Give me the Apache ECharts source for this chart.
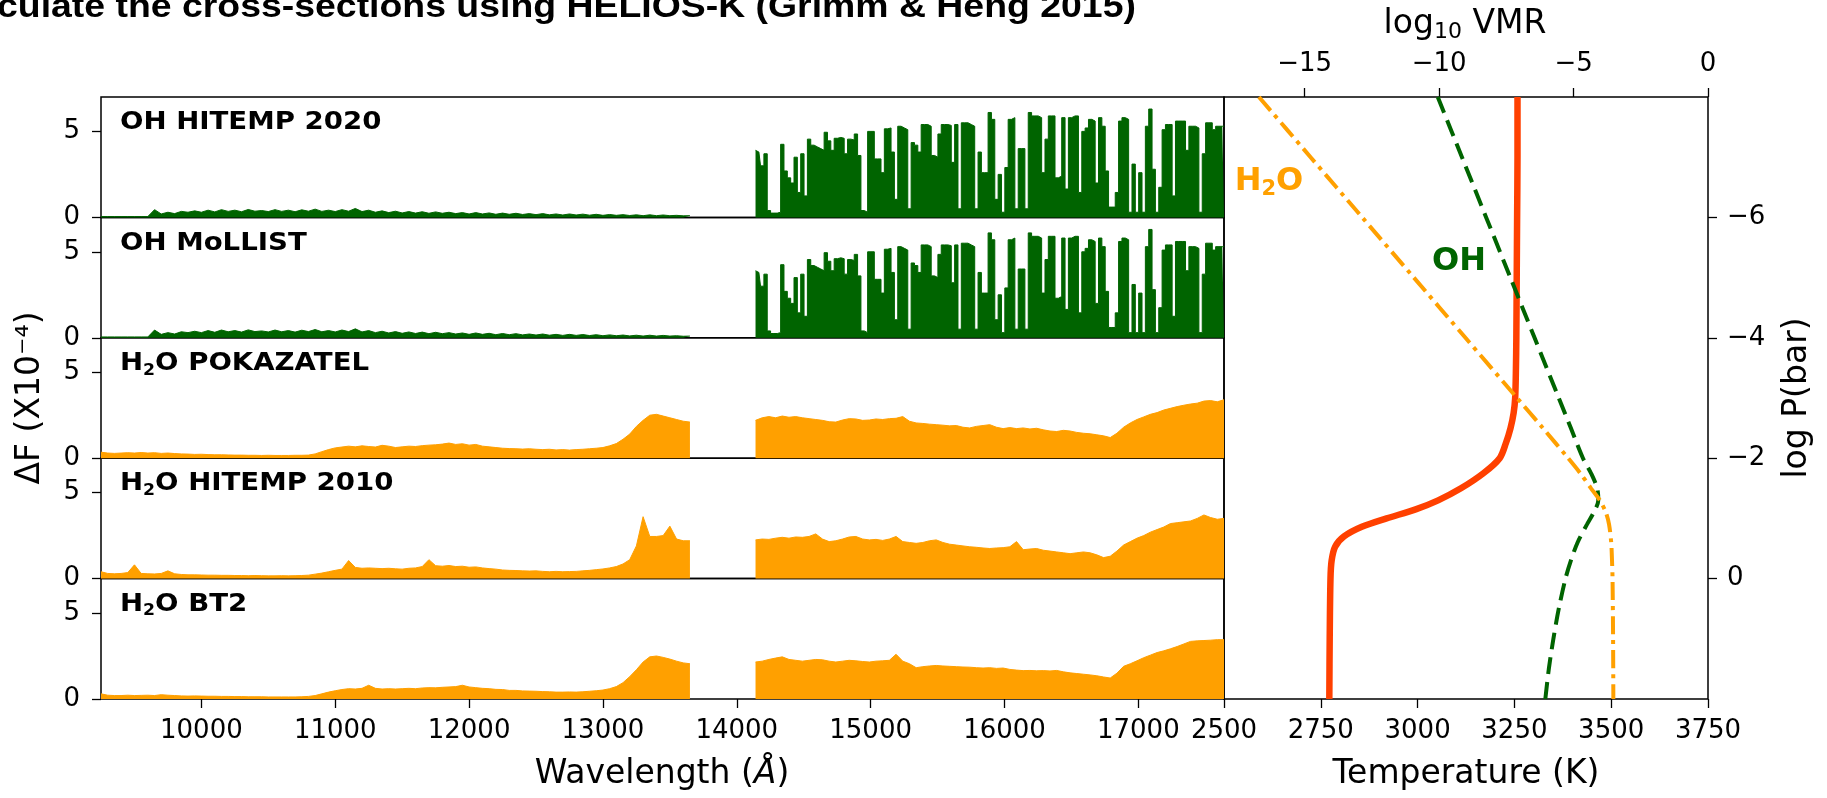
<!DOCTYPE html>
<html>
<head>
<meta charset="utf-8">
<script src="https://cdn.jsdelivr.net/npm/echarts@6/dist/echarts.min.js"></script>
<style>
  html, body { margin: 0; padding: 0; background: #fff; }
  #chart { width: 1827px; height: 798px; }
</style>
</head>
<body>
<div id="chart"></div>
<script>
// 波长网格 (Å)
const waveMin = 9250, waveMax = 17640;
const leftStart = 9250, rightStart = 14140;
const h2oStep = 50, ohStep = 25;
const waveTicks = [10000, 11000, 12000, 13000, 14000, 15000, 16000, 17000];

// OH 谱线 (ΔF x1e-4)
const ohHitempLeft = [0.05,0.05,0.05,0.05,0.05,0.05,0.05,0.05,0.45,0.2,
  0.3,0.22,0.35,0.3,0.38,0.3,0.42,0.32,0.45,0.35,
  0.42,0.33,0.46,0.36,0.4,0.34,0.45,0.35,0.42,0.33,
  0.44,0.36,0.48,0.35,0.42,0.34,0.45,0.36,0.52,0.34,
  0.42,0.3,0.38,0.28,0.36,0.26,0.34,0.25,0.33,0.24,
  0.32,0.24,0.3,0.22,0.28,0.2,0.28,0.2,0.26,0.18,
  0.25,0.18,0.24,0.17,0.22,0.16,0.22,0.15,0.2,0.14,
  0.2,0.14,0.19,0.13,0.18,0.12,0.17,0.12,0.16,0.11,
  0.15,0.1,0.15,0.1,0.14,0.1,0.12,0.09,0.1];
const ohHitempRight = [3.9,3.8,3.0,3.7,0.4,0.25,0.25,0.3,4.25,2.7,
  2.3,2.0,3.5,1.45,3.7,1.25,4.55,4.2,4.1,4.0,
  3.9,4.95,4.45,3.9,4.6,4.65,4.6,3.7,4.55,4.5,
  4.85,3.6,0.4,0.3,5.0,5.0,3.4,3.4,2.6,5.15,
  5.2,3.8,1.05,5.3,5.2,5.1,0.5,4.35,4.2,3.8,
  5.4,5.4,5.3,3.6,3.5,4.85,5.4,5.4,5.35,3.2,
  5.4,0.5,5.5,5.5,5.4,5.3,0.5,3.8,2.6,2.6,
  6.1,5.7,1.05,2.5,0.3,2.9,5.7,5.8,0.5,4.0,
  4.0,0.5,6.1,5.9,5.9,5.8,2.6,4.55,5.9,5.9,
  2.3,2.4,5.8,1.65,5.8,5.9,5.9,1.45,5.0,5.2,
  5.7,5.6,2.0,5.8,5.3,2.7,0.6,0.6,1.45,5.6,
  5.8,5.7,0.3,3.1,0.3,2.6,0.3,5.3,6.3,2.8,
  0.3,1.75,5.1,5.4,5.4,1.25,5.6,5.6,5.6,3.9,
  5.3,5.3,5.2,0.3,3.7,5.5,5.5,5.1,5.3,5.3,5.3];
// MoLLIST 在这个尺度上与 HITEMP 看起来一样
const ohMollistLeft = ohHitempLeft;
const ohMollistRight = ohHitempRight;

// H2O 谱线
const h2oPokLeft = [0.35,0.3,0.28,0.3,0.32,0.3,0.33,0.3,0.32,0.28,
  0.3,0.27,0.25,0.24,0.22,0.23,0.21,0.2,0.2,0.19,
  0.18,0.18,0.17,0.17,0.16,0.17,0.16,0.16,0.16,0.17,
  0.17,0.18,0.25,0.38,0.5,0.6,0.65,0.7,0.66,0.72,
  0.68,0.65,0.75,0.7,0.62,0.66,0.7,0.68,0.73,0.76,
  0.78,0.82,0.88,0.8,0.84,0.76,0.8,0.7,0.66,0.62,
  0.58,0.56,0.55,0.53,0.55,0.52,0.5,0.52,0.48,0.5,
  0.47,0.5,0.52,0.55,0.58,0.62,0.72,0.85,1.1,1.4,
  1.85,2.2,2.5,2.55,2.45,2.35,2.25,2.15,2.1];
const h2oPokRight = [2.2,2.35,2.42,2.35,2.45,2.38,2.42,2.35,2.3,2.25,
  2.2,2.12,2.1,2.22,2.3,2.28,2.2,2.22,2.28,2.25,
  2.3,2.32,2.42,2.15,2.05,2.02,1.98,1.95,1.92,1.88,
  1.9,1.8,1.76,1.85,1.9,1.95,1.8,1.72,1.78,1.72,
  1.76,1.7,1.74,1.65,1.58,1.55,1.62,1.58,1.5,1.45,
  1.42,1.36,1.3,1.2,1.45,1.8,2.05,2.25,2.4,2.55,
  2.65,2.8,2.9,3.0,3.08,3.15,3.2,3.32,3.35,3.28,3.4];
const h2oHit10Left = [0.4,0.3,0.28,0.3,0.35,0.8,0.3,0.28,0.27,0.3,
  0.45,0.28,0.24,0.22,0.22,0.21,0.2,0.2,0.19,0.19,
  0.18,0.18,0.17,0.18,0.17,0.16,0.16,0.17,0.16,0.17,
  0.18,0.2,0.26,0.32,0.4,0.48,0.55,1.05,0.65,0.6,
  0.62,0.6,0.58,0.6,0.57,0.55,0.6,0.62,0.7,1.1,
  0.75,0.72,0.76,0.7,0.72,0.66,0.68,0.62,0.58,0.55,
  0.5,0.48,0.47,0.45,0.44,0.45,0.42,0.4,0.42,0.4,
  0.41,0.42,0.45,0.48,0.52,0.56,0.62,0.7,0.85,1.1,
  1.9,3.6,2.45,2.45,2.5,3.05,2.3,2.2,2.2];
const h2oHit10Right = [2.25,2.3,2.28,2.35,2.4,2.35,2.42,2.4,2.45,2.6,
  2.3,2.15,2.2,2.3,2.42,2.45,2.3,2.25,2.28,2.22,
  2.3,2.45,2.15,2.1,2.05,2.1,2.2,2.25,2.1,2.0,
  1.95,1.9,1.85,1.82,1.78,1.75,1.78,1.8,1.85,2.15,
  1.68,1.72,1.75,1.65,1.6,1.55,1.5,1.45,1.5,1.55,
  1.5,1.38,1.22,1.3,1.6,1.95,2.15,2.35,2.5,2.7,
  2.85,3.0,3.2,3.25,3.3,3.35,3.5,3.7,3.55,3.45,3.5];
const h2oBt2Left = [0.3,0.22,0.2,0.2,0.22,0.2,0.21,0.22,0.2,0.25,
  0.22,0.2,0.18,0.17,0.18,0.17,0.16,0.16,0.15,0.15,
  0.14,0.14,0.13,0.13,0.13,0.12,0.12,0.12,0.12,0.12,
  0.13,0.15,0.2,0.3,0.4,0.48,0.55,0.6,0.58,0.62,
  0.8,0.62,0.58,0.6,0.58,0.6,0.62,0.6,0.64,0.66,
  0.65,0.68,0.7,0.72,0.8,0.7,0.66,0.62,0.6,0.56,
  0.55,0.5,0.5,0.47,0.46,0.45,0.43,0.42,0.4,0.4,
  0.41,0.4,0.42,0.45,0.48,0.52,0.6,0.72,0.95,1.3,
  1.7,2.15,2.45,2.5,2.42,2.32,2.2,2.1,2.05];
const h2oBt2Right = [2.15,2.2,2.3,2.38,2.45,2.3,2.25,2.2,2.25,2.3,
  2.28,2.2,2.15,2.2,2.25,2.22,2.18,2.15,2.2,2.22,
  2.25,2.6,2.2,2.05,1.82,1.88,1.92,1.95,1.92,1.9,
  1.88,1.86,1.85,1.82,1.8,1.82,1.78,1.8,1.72,1.68,
  1.65,1.66,1.64,1.65,1.63,1.66,1.58,1.52,1.48,1.44,
  1.4,1.35,1.28,1.22,1.5,1.9,2.05,2.22,2.4,2.55,
  2.7,2.8,2.92,3.05,3.2,3.35,3.38,3.4,3.42,3.45,3.45];

// 温压廓线和丰度廓线
const tpLogP = [-8,-7,-6,-5,-4,-3.5,-3,-2.75,-2.5,-2.25,-2,-1.75,-1.5,-1.3,-1.15,-1,-0.86,-0.7,-0.53,-0.3,0,1,2];
const tpTemp = [3258,3258,3257,3256,3255,3254,3252,3248,3240,3228,3212,3170,3112,3053,2995,2920,2856,2810,2787,2778,2775,2773,2772];
const ohLogP = [-8,-7,-6,-5,-4,-3,-2.5,-2,-1.75,-1.5,-1.3,-1.1,-0.9,-0.6,-0.3,0,0.5,1,1.5,2];
const ohVmr = [-10.05,-9.15,-8.25,-7.35,-6.45,-5.55,-5.1,-4.65,-4.35,-4.12,-4.08,-4.25,-4.5,-4.85,-5.1,-5.3,-5.55,-5.75,-5.92,-6.05];
const h2oLogP = [-8,-7,-6,-5,-4,-3,-2.5,-2,-1.75,-1.5,-1.3,-1.1,-0.9,-0.6,-0.3,0,1,2];
const h2oVmr = [-16.7,-14.78,-12.86,-10.94,-9.02,-7.1,-6.14,-5.2,-4.75,-4.35,-4.02,-3.8,-3.68,-3.6,-3.57,-3.55,-3.53,-3.52];

const tempTicks = { min: 2500, max: 3750, interval: 250 };
const vmrTicks = [-15, -10, -5, 0];
const logPTicks = [-6, -4, -2, 0];

const GREEN = '#006400', ORANGE = '#ffa000', RED = '#ff4000';
const FONT = 'DejaVu Sans';

const panels = [
  { name: 'OH HITEMP 2020', color: GREEN, left: ohHitempLeft, right: ohHitempRight, rightStep: ohStep, step: 'middle' },
  { name: 'OH MoLLIST', color: GREEN, left: ohMollistLeft, right: ohMollistRight, rightStep: ohStep, step: 'middle' },
  { name: 'H{s|2}O POKAZATEL', color: ORANGE, left: h2oPokLeft, right: h2oPokRight, rightStep: h2oStep, step: false },
  { name: 'H{s|2}O HITEMP 2010', color: ORANGE, left: h2oHit10Left, right: h2oHit10Right, rightStep: h2oStep, step: false },
  { name: 'H{s|2}O BT2', color: ORANGE, left: h2oBt2Left, right: h2oBt2Right, rightStep: h2oStep, step: false }
];

function pairs(start, step, vals) {
  return vals.map((v, i) => [start + i * step, v]);
}
function plain(v) {
  return String(v).replace('-', '−');
}

const plotLeft = 101, plotRight = 1224, rightEdge = 1708;
const plotTop = 97, panelH = 120.4;

const grids = [], xAxes = [], yAxes = [], series = [], graphics = [];
const tickLine = { color: '#000', width: 1.3 };
const labelStyle = { color: '#000', fontSize: 26, fontFamily: FONT, formatter: plain };
const noLine = { show: false, onZero: false };

panels.forEach((p, i) => {
  grids.push({
    left: plotLeft, top: plotTop + panelH * i, width: plotRight - plotLeft, height: panelH,
    show: true, borderColor: '#000', borderWidth: 1.5, outerBoundsMode: 'none'
  });
  const bottom = i === panels.length - 1;
  xAxes.push({
    gridIndex: i, type: 'value', min: waveMin, max: waveMax, show: bottom,
    axisLine: noLine, splitLine: { show: false },
    axisTick: { show: bottom, customValues: waveTicks, length: 9, lineStyle: tickLine },
    axisLabel: Object.assign({ show: bottom, customValues: waveTicks, margin: 19 }, labelStyle)
  });
  yAxes.push({
    gridIndex: i, type: 'value', min: 0, max: 7,
    axisLine: noLine, splitLine: { show: false },
    axisTick: { show: true, customValues: [0, 5], length: 9, lineStyle: tickLine },
    axisLabel: Object.assign({ customValues: [0, 5], margin: 21 }, labelStyle)
  });
  const base = {
    type: 'line', xAxisIndex: i, yAxisIndex: i, symbol: 'none', silent: true, animation: false,
    lineStyle: { color: p.color, width: 1 }, areaStyle: { color: p.color, opacity: 1 }
  };
  series.push(Object.assign({}, base, { data: pairs(leftStart, h2oStep, p.left) }));
  series.push(Object.assign({}, base, { data: pairs(rightStart, p.rightStep, p.right), step: p.step }));

  graphics.push({
    type: 'text', x: 120, y: plotTop + panelH * i + 26, scaleX: 1.15,
    style: {
      text: p.name, fontSize: 24, fontWeight: 'bold', fontFamily: FONT, fill: '#000', verticalAlign: 'middle',
      rich: { s: { fontSize: 15, fontWeight: 'bold', fontFamily: FONT, fill: '#000', padding: [14, 0, 0, 0] } }
    }
  });
});

// 右侧: 温压廓线 + 丰度
grids.push({
  left: plotRight, top: plotTop, width: rightEdge - plotRight, height: panelH * 5,
  show: true, borderColor: '#000', borderWidth: 1.5, outerBoundsMode: 'none'
});
xAxes.push({
  gridIndex: 5, type: 'value', min: tempTicks.min, max: tempTicks.max, interval: tempTicks.interval,
  axisLine: noLine, splitLine: { show: false },
  axisTick: { length: 9, lineStyle: tickLine },
  axisLabel: Object.assign({ margin: 19 }, labelStyle)
});
xAxes.push({
  gridIndex: 5, type: 'value', position: 'top', min: -18, max: 0,
  axisLine: noLine, splitLine: { show: false },
  axisTick: { customValues: vmrTicks, length: 9, lineStyle: tickLine },
  axisLabel: Object.assign({ customValues: vmrTicks, margin: 20 }, labelStyle)
});
yAxes.push({
  gridIndex: 5, type: 'value', position: 'right', min: -8, max: 2, inverse: true,
  axisLine: noLine, splitLine: { show: false },
  axisTick: { customValues: logPTicks, length: 9, lineStyle: tickLine },
  axisLabel: Object.assign({ customValues: logPTicks, margin: 19 }, labelStyle)
});

series.push({
  type: 'line', xAxisIndex: 5, yAxisIndex: 5, symbol: 'none', silent: true, animation: false, smooth: 0.3,
  data: tpTemp.map((t, i) => [t, tpLogP[i]]),
  lineStyle: { color: RED, width: 6.5 }
});
series.push({
  type: 'line', xAxisIndex: 6, yAxisIndex: 5, symbol: 'none', silent: true, animation: false, smooth: 0.3,
  data: ohVmr.map((v, i) => [v, ohLogP[i]]),
  lineStyle: { color: GREEN, width: 4, type: [17, 8] }
});
series.push({
  type: 'line', xAxisIndex: 6, yAxisIndex: 5, symbol: 'none', silent: true, animation: false, smooth: 0.3,
  data: h2oVmr.map((v, i) => [v, h2oLogP[i]]),
  lineStyle: { color: ORANGE, width: 4, type: [18, 6, 4, 6] }
});

// 文字
graphics.push(
  { type: 'text', x: -3, y: 8, scaleX: 1.1,
    style: { text: 'culate the cross-sections using HELIOS-K (Grimm & Heng 2015)', font: 'bold 34px "Liberation Sans"', fill: '#000', verticalAlign: 'middle' } },
  { type: 'text', x: 30, y: 398, rotation: Math.PI / 2,
    style: { text: 'ΔF (X10⁻⁴)', font: '33px "DejaVu Sans"', fill: '#000', align: 'center', verticalAlign: 'middle' } },
  { type: 'text', x: 662, y: 774,
    style: { text: 'Wavelength ({i|Å})', fontSize: 33, fontFamily: FONT, fill: '#000', align: 'center', verticalAlign: 'middle',
      rich: { i: { fontSize: 33, fontFamily: FONT, fontStyle: 'italic', fill: '#000' } } } },
  { type: 'text', x: 1466, y: 774,
    style: { text: 'Temperature (K)', font: '33px "DejaVu Sans"', fill: '#000', align: 'center', verticalAlign: 'middle' } },
  { type: 'text', x: 1465, y: 24,
    style: { text: 'log{s|10} VMR', fontSize: 33, fontFamily: FONT, fill: '#000', align: 'center', verticalAlign: 'middle',
      rich: { s: { fontSize: 22, fontFamily: FONT, fill: '#000', padding: [16, 0, 0, 0] } } } },
  { type: 'text', x: 1797, y: 398, rotation: Math.PI / 2,
    style: { text: 'log P(bar)', font: '33px "DejaVu Sans"', fill: '#000', align: 'center', verticalAlign: 'middle' } },
  { type: 'text', x: 1269, y: 182,
    style: { text: 'H{s|2}O', fontSize: 32, fontWeight: 'bold', fontFamily: FONT, fill: ORANGE, align: 'center', verticalAlign: 'middle',
      rich: { s: { fontSize: 21, fontWeight: 'bold', fontFamily: FONT, fill: ORANGE, padding: [16, 0, 0, 0] } } } },
  { type: 'text', x: 1459, y: 262,
    style: { text: 'OH', font: 'bold 32px "DejaVu Sans"', fill: GREEN, align: 'center', verticalAlign: 'middle' } }
);

const chart = echarts.init(document.getElementById('chart'));
chart.setOption({
  backgroundColor: '#fff',
  animation: false,
  textStyle: { fontFamily: FONT, color: '#000' },
  grid: grids,
  xAxis: xAxes,
  yAxis: yAxes,
  series: series,
  graphic: graphics
});

window.addEventListener('resize', function () {
  chart.resize();
});
</script>
</body>
</html>
